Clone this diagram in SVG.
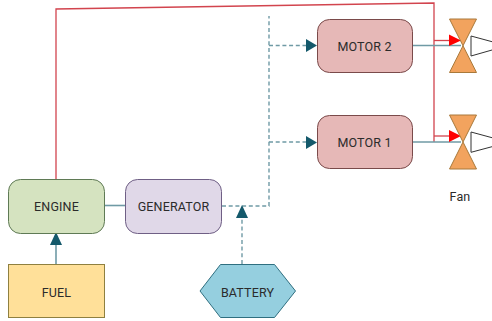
<svg xmlns="http://www.w3.org/2000/svg" width="492" height="321" viewBox="0 0 492 321">
<style>
text{font-family:Roboto,"Liberation Sans",sans-serif;font-size:12.5px;fill:#2b2b2b;text-anchor:middle;letter-spacing:.15px}
.s{fill:none;stroke:#6f9aa5;stroke-width:1.6}
.d{fill:none;stroke:#6f9aa5;stroke-width:1.4;stroke-dasharray:4 2.7}
.r{fill:none;stroke:#d2444e;stroke-width:1.3}
.h{fill:#14596b}
.a{fill:#f00}
.f{fill:#f2a35e;stroke:#a9793a;stroke-width:1}
.m{fill:#e6b8b7;stroke:#7a4a4a;stroke-width:1}
.c{fill:#fff;stroke:#333;stroke-width:1}
</style>
<rect width="492" height="321" fill="#fff"/>
<g id="connectors">
<path class="r" d="M56 179V9L434 3V142"/>
<path class="r" d="M434 40.500H452"/>
<path class="r" d="M434 136H452"/>
<path class="s" d="M413 45.500H461"/>
<path class="s" d="M413 142H461"/>
<path class="s" d="M104 205.500H125"/>
<path class="s" d="M56 264V244"/>
<path class="d" d="M222 206H269V16"/>
<path class="d" d="M269 45.500H306"/>
<path class="d" d="M269 142H306"/>
<path class="d" d="M242 264V218"/>
<polygon class="h" points="50,245 62,245 56,232"/>
<polygon class="h" points="236,218 248,218 242,205"/>
<polygon class="h" points="306,39 306,52 317,45.500"/>
<polygon class="h" points="306,136 306,149 317,142.500"/>
<polygon class="a" points="449,34.500 449,46 461,40.500"/>
<polygon class="a" points="449,130 449,142 461,136"/>
</g>
<g id="engine"><rect x="8.500" y="179.500" width="96" height="54" rx="12" fill="#d5e3c0" stroke="#5f7a55"/><text x="56.500" y="211">ENGINE</text></g>
<g id="generator"><rect x="125.500" y="179.500" width="96" height="54" rx="12" fill="#e0d8e8" stroke="#6f5f85"/><text x="173.500" y="211">GENERATOR</text></g>
<g id="fuel"><rect x="8.500" y="264.500" width="96" height="53" fill="#ffe099" stroke="#8f8040"/><text x="56.500" y="297">FUEL</text></g>
<g id="battery"><polygon points="200,291 220.500,264.500 274.500,264.500 295.500,291 274.500,317.500 220.500,317.500" fill="#95cfdf" stroke="#2f6f80"/><text x="247.500" y="297">BATTERY</text></g>
<g id="motor2"><rect x="317.500" y="19.500" width="95" height="53" rx="12" class="m"/><text x="364.500" y="51">MOTOR 2</text></g>
<g id="motor1"><rect x="317.500" y="115.500" width="95" height="53" rx="12" class="m"/><text x="364.500" y="147">MOTOR 1</text></g>
<g id="fan2"><polygon class="f" points="449.500,19 476.500,19 449.500,72.500 476.500,72.500"/><path class="c" d="M492 41.700L471 36V56L492 50"/></g>
<g id="fan1"><polygon class="f" points="449.500,115 476.500,115 449.500,169 476.500,169"/><path class="c" d="M492 137.700L471 132V152.300L492 146.700"/></g>
<g id="fan-label"><text x="460" y="201">Fan</text></g>
</svg>
